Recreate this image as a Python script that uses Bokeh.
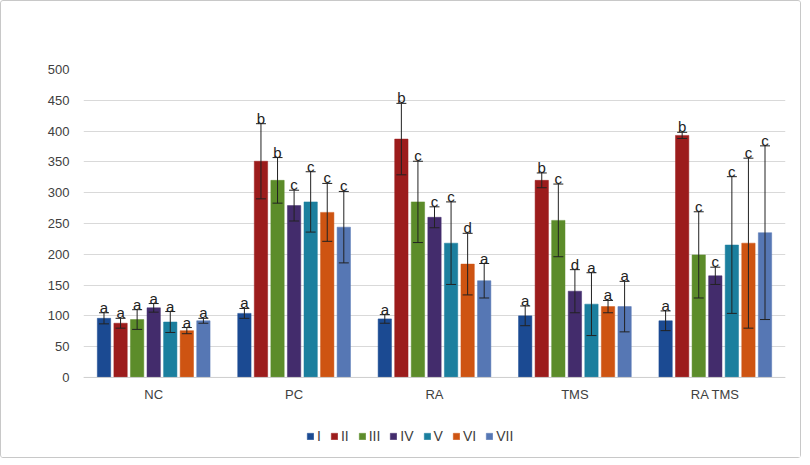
from bokeh.plotting import figure
from bokeh.models import (ColumnDataSource, FactorRange, Whisker, TeeHead, Legend,
                          LegendItem, Span, FixedTicker)
from bokeh.transform import dodge
from bokeh.core.properties import value
from bokeh.embed import file_html
from bokeh.resources import INLINE

categories = ["NC", "PC", "RA", "TMS", "RA TMS"]
series = ["I", "II", "III", "IV", "V", "VI", "VII"]
colors = ["#1B4A92", "#9C1C1C", "#5C8C2A", "#432C6C", "#1B7F9E", "#CE5412", "#5677B4"]

mean_I = [96, 104, 95, 100, 92]
mean_II = [88, 351, 387, 320, 393]
mean_III = [94, 320, 285, 255, 199]
mean_IV = [113, 279, 260, 140, 165]
mean_V = [90, 285, 218, 119, 215]
mean_VI = [76, 268, 184, 115, 218]
mean_VII = [92, 244, 157, 115, 235]

err_I = [9, 8, 7, 16, 16]
err_II = [8, 61, 58, 12, 5]
err_III = [16, 37, 66, 59, 70]
err_IV = [7, 25, 17, 35, 14]
err_V = [17, 49, 67, 51, 111]
err_VI = [5, 47, 50, 10, 138]
err_VII = [4, 58, 28, 41, 141]

let_I = ["a", "a", "a", "a", "a"]
let_II = ["a", "b", "b", "b", "b"]
let_III = ["a", "b", "c", "c", "c"]
let_IV = ["a", "c", "c", "d", "c"]
let_V = ["a", "c", "c", "a", "c"]
let_VI = ["a", "c", "d", "a", "c"]
let_VII = ["a", "c", "a", "a", "c"]

y_ticks = list(range(0, 501, 50))

means = [mean_I, mean_II, mean_III, mean_IV, mean_V, mean_VI, mean_VII]
errs = [err_I, err_II, err_III, err_IV, err_V, err_VI, err_VII]
lets = [let_I, let_II, let_III, let_IV, let_V, let_VI, let_VII]

W, H = 801, 458
p = figure(x_range=FactorRange(*categories), y_range=(-130, 500), width=W, height=H,
           output_backend="svg", toolbar_location=None,
           min_border_left=82, min_border_right=17, min_border_top=68, min_border_bottom=2)
p.x_range.range_padding = 0
p.outline_line_color = None
p.background_fill_color = "white"
p.border_fill_color = "white"
p.styles = {"border": "1px solid #c8c8c8", "border-radius": "3px"}

font = value("Liberation Sans")
stride = 0.118
bw = 0.095
items = []
for i, name in enumerate(series):
    off = (i - 3) * stride
    m = means[i]
    e = errs[i]
    src = ColumnDataSource(dict(cat=categories, top=m,
                                upper=[a + b for a, b in zip(m, e)],
                                lower=[a - b for a, b in zip(m, e)],
                                letter=lets[i]))
    r = p.vbar(x=dodge("cat", off, range=p.x_range), top="top", bottom=0, width=bw,
               source=src, fill_color=colors[i], line_color=colors[i], line_width=0.5)
    w = Whisker(base=dodge("cat", off, range=p.x_range), upper="upper", lower="lower",
                source=src, line_color="#222222", line_width=1, level="overlay",
                upper_head=TeeHead(size=10, line_color="#222222", line_width=1),
                lower_head=TeeHead(size=10, line_color="#222222", line_width=1))
    p.add_layout(w)
    p.text(x=dodge("cat", off, range=p.x_range), y="upper", text="letter", source=src,
           text_align="center", text_baseline="bottom", y_offset=3,
           text_font=font, text_font_size="15px", text_color="#222222", level="overlay")
    items.append(LegendItem(label=name, renderers=[r]))

# category labels under the baseline
cat_src = ColumnDataSource(dict(cat=categories, y=[0] * len(categories)))
p.text(x="cat", y="y", text="cat", source=cat_src, text_align="center",
       text_baseline="top", y_offset=10, text_font=font, text_font_size="13px",
       text_color="#404040")
p.add_layout(Span(location=0, dimension="width", line_color="#d0d0d0", line_width=1))

p.xaxis.visible = False
p.xgrid.grid_line_color = None
p.ygrid.grid_line_color = "#d9d9d9"
p.ygrid.grid_line_width = 1
p.yaxis.ticker = FixedTicker(ticks=y_ticks)
p.yaxis.axis_line_color = None
p.yaxis.major_tick_line_color = None
p.yaxis.minor_tick_line_color = None
p.yaxis.major_label_text_font = "Liberation Sans"
p.yaxis.major_label_text_font_size = "13px"
p.yaxis.major_label_text_color = "#404040"
p.yaxis.major_label_standoff = 8

legend = Legend(items=items, orientation="horizontal", location=(223, 13),
                glyph_width=8, glyph_height=8, label_standoff=3, spacing=9,
                label_width=0, label_height=14,
                label_text_font="Liberation Sans", label_text_font_size="14px",
                label_text_color="#404040", border_line_color=None,
                background_fill_alpha=0, padding=0, margin=0)
p.add_layout(legend, "center")

open("out.html", "w").write(file_html(p, INLINE))
